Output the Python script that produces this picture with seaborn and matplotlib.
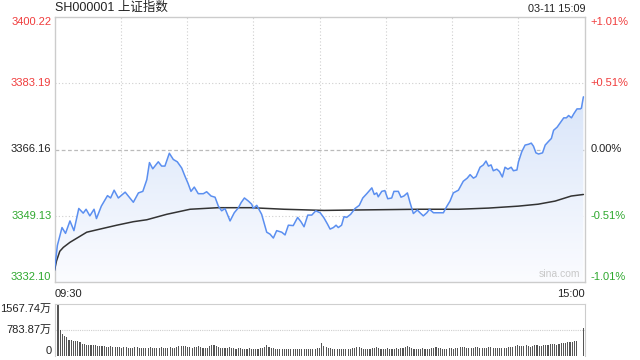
import numpy as np
import matplotlib
matplotlib.use("Agg")
import matplotlib.pyplot as plt
import seaborn as sns
from matplotlib.patches import Polygon
from matplotlib.colors import LinearSegmentedColormap

# minutes since 09:30 (lunch break removed, 0..240)
price_t = [0, 1.3, 3.4, 5, 7, 8.8, 11, 13, 14.3, 16,
           17.9, 19, 21.2, 24, 25.4, 27, 28.9, 32, 35.7, 38,
           40, 41.8, 43, 44.5, 47, 48.5, 50, 52, 53.8, 55.6,
           57.6, 59, 60.5, 61.8, 63.3, 65.1, 67.4, 68.9, 70.9, 72.7,
           74.2, 75.7, 77.2, 79.5, 81.4, 83.3, 84.5, 86, 87.8, 89.3,
           90, 91.6, 93.8, 96.1, 97.6, 99.1, 100.6, 102.9, 104.4, 105.9,
           108.1, 110.1, 111.6, 113, 114.7, 116.5, 118.3, 120.3, 122, 123.6,
           124.8, 126.3, 127.5, 128.5, 130, 131.1, 132.3, 134.1, 136.1, 138,
           139.6, 141.4, 143.7, 144.8, 145.9, 146.6, 148.2, 149.6, 150.9, 152.7,
           153.7, 155.7, 156.9, 158.2, 159.8, 161, 162.5, 164.3, 165.5, 167,
           168.6, 169.8, 171.6, 173.8, 176.1, 177.6, 179.1, 180.6, 182.9, 185.1,
           186.9, 188.2, 189.7, 190.9, 192.7, 194.2, 195.4, 196.5, 197.7, 198.7,
           200.3, 201.5, 202.8, 204, 205.3, 206.8, 207.8, 209.4, 210.1, 211.6,
           213.1, 214.6, 215.9, 216.9, 218, 219.2, 221, 222.2, 223.8, 225,
           226, 227.6, 229.5, 230.6, 231.8, 232.8, 234.1, 235.1, 236.6, 238.1,
           238.6, 239.5]
price_v = [3335.1, 3341.5, 3346.1, 3344.6, 3347.8, 3345.3, 3351.0, 3349.8, 3350.8, 3349.1,
           3350.8, 3348.4, 3351.6, 3354.3, 3353.7, 3355.7, 3353.7, 3355.2, 3352.6, 3355.0,
           3355.4, 3358.4, 3362.8, 3361.2, 3363.0, 3361.9, 3361.9, 3365.2, 3363.6, 3363.0,
           3361.4, 3359.4, 3357.4, 3355.4, 3356.5, 3354.8, 3354.8, 3355.3, 3354.2, 3353.9,
           3351.6, 3350.4, 3351.0, 3347.8, 3349.9, 3351.2, 3352.5, 3353.7, 3352.9, 3352.1,
           3351.0, 3351.8, 3349.5, 3344.9, 3344.4, 3343.4, 3345.3, 3344.9, 3344.2, 3346.7,
           3346.6, 3348.7, 3347.6, 3346.3, 3349.3, 3349.3, 3350.4, 3349.9, 3348.6, 3347.0,
           3345.7, 3346.1, 3346.7, 3346.1, 3346.7, 3348.9, 3348.7, 3349.5, 3351.0, 3351.8,
           3353.7, 3354.8, 3356.3, 3354.6, 3355.0, 3354.0, 3355.4, 3355.6, 3353.5, 3353.7,
           3355.4, 3355.4, 3353.9, 3354.2, 3355.0, 3352.5, 3349.7, 3350.6, 3349.9, 3349.1,
           3349.9, 3350.8, 3349.9, 3349.9, 3349.9, 3351.5, 3352.9, 3355.0, 3355.7, 3358.0,
           3358.8, 3359.7, 3358.8, 3359.2, 3361.6, 3362.2, 3363.2, 3361.9, 3362.2, 3360.7,
           3361.1, 3360.5, 3359.1, 3361.6, 3361.1, 3361.6, 3360.7, 3360.9, 3363.0, 3365.6,
           3367.3, 3367.5, 3367.8, 3367.0, 3365.3, 3365.0, 3365.3, 3367.3, 3368.3, 3369.0,
           3371.1, 3371.9, 3373.4, 3374.3, 3374.3, 3374.9, 3374.3, 3375.3, 3376.6, 3376.6,
           3376.8, 3379.7]

avg_t = [0, 0.9, 2.4, 4, 7, 10.8, 14.6, 20.6, 28.2, 35.7,
         41.8, 50.8, 61.4, 74, 89, 104, 122, 135, 150, 165,
         183, 196.5, 210, 219, 226.7, 234, 239.5]
avg_v = [3335.1, 3337.5, 3340.0, 3341.0, 3342.3, 3343.6, 3344.9, 3345.7, 3346.7, 3347.6,
         3348.1, 3349.5, 3350.8, 3351.2, 3351.2, 3350.8, 3350.5, 3350.6, 3350.7, 3350.8,
         3350.8, 3351.1, 3351.6, 3352.1, 3352.9, 3354.2, 3354.6]

# volume per minute, in 万
vol_v = [552, 1567.74, 784, 666, 617, 568, 470, 470, 460, 441,
         441, 421, 372, 353, 323, 323, 330, 318, 323, 300,
         294, 290, 300, 285, 270, 290, 275, 262, 280, 265,
         250, 262, 270, 255, 250, 245, 262, 280, 250, 240,
         250, 255, 245, 258, 250, 240, 246, 250, 262, 255,
         240, 250, 262, 245, 255, 270, 290, 300, 310, 295,
         280, 265, 250, 270, 285, 300, 265, 250, 240, 255,
         290, 320, 330, 300, 270, 250, 240, 230, 245, 260,
         250, 235, 220, 230, 240, 225, 215, 220, 230, 225,
         215, 220, 225, 230, 240, 260, 330, 280, 245, 230,
         225, 215, 210, 220, 215, 210, 205, 215, 220, 210,
         205, 200, 210, 215, 205, 200, 210, 215, 220, 230,
         250, 390, 300, 270, 250, 230, 220, 215, 225, 210,
         205, 215, 220, 210, 215, 230, 255, 280, 270, 240,
         225, 220, 215, 225, 240, 250, 265, 240, 220, 215,
         220, 230, 225, 215, 220, 235, 225, 230, 250, 270,
         290, 260, 240, 225, 220, 215, 225, 230, 220, 215,
         225, 235, 255, 270, 250, 230, 220, 215, 225, 235,
         230, 225, 240, 255, 270, 280, 265, 250, 240, 235,
         245, 260, 275, 250, 240, 235, 245, 260, 270, 250,
         240, 235, 245, 255, 250, 245, 260, 270, 285, 300,
         320, 310, 290, 300, 320, 290, 275, 300, 320, 330,
         310, 300, 320, 340, 330, 350, 365, 350, 340, 360,
         380, 400, 390, 410, 420, 430, 440, 441, 8, 8,
         853]
vol_t = list(range(len(vol_v)))

y_ticks = [3400.22, 3383.19, 3366.16, 3349.13, 3332.10]
pct_labels = ['+1.01%', '+0.51%', '0.00%', '-0.51%', '-1.01%']
vol_ticks = [1567.74, 783.87, 0]
vol_labels = ['1567.74万', '783.87万', '0']

RED, GREEN, DARK = '#f03c3c', '#2ea82e', '#222222'
tick_colors = [RED, RED, DARK, GREEN, GREEN]

sns.set_style('white')
plt.rcParams['font.family'] = ['Liberation Sans', 'Noto Sans CJK SC', 'DejaVu Sans']

W, H = 640, 360
fig = plt.figure(figsize=(6.4, 3.6), dpi=100)
ax = fig.add_axes([54.5 / W, 1 - 282 / H, 530 / W, 265 / H])
axv = fig.add_axes([54.5 / W, 1 - 356 / H, 530 / W, 52 / H])

ymin, ymax = y_ticks[-1], y_ticks[0]

# gradient area under the price line
verts = list(zip(price_t, price_v)) + [(price_t[-1], ymin), (price_t[0], ymin)]
poly = Polygon(verts, closed=True, facecolor='none', edgecolor='none')
ax.add_patch(poly)
cmap = LinearSegmentedColormap.from_list('fade', ['#fbfcff', '#d9e5f9'])
grad = np.linspace(0, 1, 256).reshape(-1, 1)
im = ax.imshow(grad, extent=[0, 240, ymin, max(price_v)], origin='lower',
               aspect='auto', cmap=cmap, zorder=1)
im.set_clip_path(poly)

sns.lineplot(x=price_t, y=price_v, ax=ax, color='#5b8ff0', linewidth=1.1,
             estimator=None, sort=False, zorder=4)
sns.lineplot(x=avg_t, y=avg_v, ax=ax, color='#333333', linewidth=1.1,
             estimator=None, sort=False, zorder=3)

ax.set_xlim(0, 240)
ax.set_ylim(ymin, ymax)
ax.set_xticks([])
ax.set_yticks([])
ax.set_xlabel('')
ax.set_ylabel('')
for x in range(30, 240, 30):
    ax.axvline(x, color='#cfcfcf', linewidth=0.8, linestyle=(0, (1, 2)), zorder=0.5)
for y in (y_ticks[1], y_ticks[3]):
    ax.axhline(y, color='#cfcfcf', linewidth=0.8, linestyle=(0, (1, 2)), zorder=0.5)
ax.axhline(y_ticks[2], color='#bbbbbb', linewidth=0.9, linestyle=(0, (3, 2)), zorder=0.5)
for s in ax.spines.values():
    s.set_color('#cccccc')
    s.set_linewidth(1)

tr = ax.get_yaxis_transform()
for i, (v, lab, c) in enumerate(zip(y_ticks, pct_labels, tick_colors)):
    va = 'top' if i == 0 else ('bottom' if i == len(y_ticks) - 1 else 'center')
    ax.text(-0.006, v, f'{v:.2f}', transform=tr, ha='right', va=va, color=c, fontsize=8)
    ax.text(1.011, v, lab, transform=tr, ha='left', va=va, color=c, fontsize=8)

ax.text(0.992, 0.01, 'sina.com', transform=ax.transAxes, ha='right', va='bottom',
        color='#c8c8c8', fontsize=7.5)
ax.text(0, -0.025, '09:30', transform=ax.transAxes, ha='left', va='top', color=DARK, fontsize=8)
ax.text(1, -0.025, '15:00', transform=ax.transAxes, ha='right', va='top', color=DARK, fontsize=8)

fig.text(55 / W, 1 - 8 / H, 'SH000001 上证指数', ha='left', va='center', color=DARK, fontsize=9)
fig.text(585 / W, 1 - 9 / H, '03-11 15:09', ha='right', va='center', color=DARK, fontsize=7.8)

# volume bars
sns.barplot(x=vol_t, y=vol_v, ax=axv, native_scale=True, color='#555555',
            width=0.5, errorbar=None, saturation=1, linewidth=0)
axv.set_xlim(-0.6, 240.6)
axv.set_ylim(0, vol_ticks[0])
axv.set_xticks([])
axv.set_yticks([])
axv.set_xlabel('')
axv.set_ylabel('')
axv.axhline(vol_ticks[1], color='#cfcfcf', linewidth=0.8, linestyle=(0, (1, 1)), zorder=0)
for side in ('left', 'right'):
    axv.spines[side].set_color('#cccccc')
axv.spines['top'].set_color('#cfcfcf')
axv.spines['top'].set_linestyle((0, (1, 1)))
axv.spines['bottom'].set_visible(False)

trv = axv.get_yaxis_transform()
for i, (v, lab) in enumerate(zip(vol_ticks, vol_labels)):
    va = 'top' if i == 0 else ('bottom' if i == len(vol_ticks) - 1 else 'center')
    axv.text(-0.006, v, lab, transform=trv, ha='right', va=va, color=DARK, fontsize=8)

fig.savefig('out.png', dpi=100)
